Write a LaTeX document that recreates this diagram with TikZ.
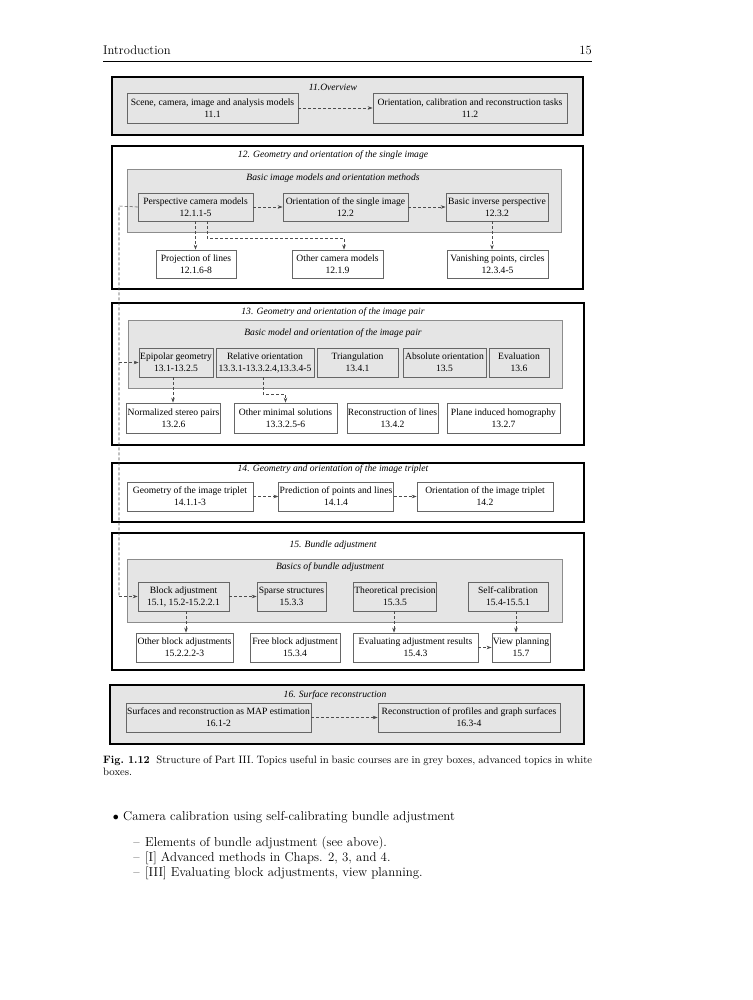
\documentclass[tikz,border=0pt]{standalone}
\usepackage{fontspec}
\newfontfamily\diafont{Liberation Serif}
\usetikzlibrary{arrows.meta}

\begin{document}
\begin{tikzpicture}[x=1pt,y=-1pt,
    sect/.style={draw=black, line width=1.4pt, inner sep=0pt},
    basic/.style={draw=black!45, line width=0.7pt, fill=black!10, inner sep=0pt},
    topic/.style={draw=black!60, line width=0.7pt, inner xsep=1pt, inner ysep=0pt, align=center,
      font=\diafont\fontsize{9.6}{12}\selectfont},
    ttl/.style={font=\diafont\itshape\fontsize{9.6}{12}\selectfont},
    dep/.style={draw=black!70, line width=0.6pt, dash pattern=on 3pt off 2pt,
      -{Stealth[length=5pt,width=3.5pt]}},
    page/.style={inner sep=0pt, font=\fontsize{12.9}{15}\selectfont}]
  \useasboundingbox (0,0) rectangle (752,1000);
  \fill[white] (0,0) rectangle (752,1000);

  % running head
  \node[page, anchor=base west, font=\fontsize{12.6}{15}\selectfont] (head) at (103,55) {Introduction};
  \node[page, anchor=base east, font=\fontsize{12.6}{15}\selectfont] (pnum) at (592,55) {15};
  \draw[line width=0.5pt] (103,61) -- (592,61);

  % 11
  \node[sect, fill=black!10, minimum width=471, minimum height=58] (sec11) at (347.5,106) {};
  \node[ttl] (t11) at (333,87) {11.Overview};
  \node[topic, minimum width=171, minimum height=30] (scene) at (212.5,108) {Scene, camera, image and analysis models\\11.1};
  \node[topic, minimum width=194, minimum height=30] (tasks) at (470,108) {Orientation, calibration and reconstruction tasks\\11.2};
  \draw[dep] (scene) -- (tasks);

  % 12
  \node[sect, minimum width=471, minimum height=143] (sec12) at (347.5,217.5) {};
  \node[ttl] (t12) at (333,155) {12. Geometry and orientation of the single image};
  \node[basic, minimum width=434, minimum height=63] (bas12) at (344,200.5) {};
  \node[ttl] (s12) at (333,178) {Basic image models and orientation methods};
  \node[topic, minimum width=115, minimum height=28] (persp) at (195.5,207) {Perspective camera models\\12.1.1-5};
  \node[topic, minimum width=125, minimum height=28] (single) at (345.5,207) {Orientation of the single image\\12.2};
  \node[topic, minimum width=102, minimum height=28] (inverse) at (497,207) {Basic inverse perspective\\12.3.2};
  \node[topic, fill=white, minimum width=80, minimum height=28] (lines) at (196,264) {Projection of lines\\12.1.6-8};
  \node[topic, fill=white, minimum width=91, minimum height=28] (othercam) at (337.5,264) {Other camera models\\12.1.9};
  \node[topic, fill=white, minimum width=101, minimum height=28] (vanish) at (497.5,264) {Vanishing points, circles\\12.3.4-5};
  \draw[dep] (persp) -- (single);
  \draw[dep] (single) -- (inverse);
  \draw[dep] (persp.south) -- (persp.south |- lines.north);
  \draw[dep] ([xshift=11.5pt]persp.south) -- ++(0,17) -| ([xshift=6.5pt]othercam.north);
  \draw[dep] ([xshift=-5pt]inverse.south) -- ([xshift=-5pt]inverse.south |- vanish.north);

  % 13
  \node[sect, minimum width=472, minimum height=142] (sec13) at (348,374) {};
  \node[ttl] (t13) at (333,312) {13. Geometry and orientation of the image pair};
  \node[basic, minimum width=434, minimum height=68] (bas13) at (345,354) {};
  \node[ttl] (s13) at (333,333) {Basic model and orientation of the image pair};
  \node[topic, minimum width=74, minimum height=29] (epi) at (176,362.5) {Epipolar geometry\\13.1-13.2.5};
  \node[topic, minimum width=98, minimum height=29] (rel) at (265,362.5) {Relative orientation\\13.3.1-13.3.2.4,13.3.4-5};
  \node[topic, minimum width=81, minimum height=29] (tri) at (357.5,362.5) {Triangulation\\13.4.1};
  \node[topic, minimum width=83, minimum height=29] (abs) at (444.5,362.5) {Absolute orientation\\13.5};
  \node[topic, minimum width=60, minimum height=29] (eval) at (519,362.5) {Evaluation\\13.6};
  \node[topic, fill=white, minimum width=91, minimum height=30] (norm) at (173.5,418) {Normalized stereo pairs\\13.2.6};
  \node[topic, fill=white, minimum width=103, minimum height=30] (minimal) at (285.5,418) {Other minimal solutions\\13.3.2.5-6};
  \node[topic, fill=white, minimum width=91, minimum height=30] (reclines) at (392.5,418) {Reconstruction of lines\\13.4.2};
  \node[topic, fill=white, minimum width=113, minimum height=30] (plane) at (503.5,418) {Plane induced homography\\13.2.7};
  \draw[dep] ([xshift=-3pt]epi.south) -- ([xshift=-3pt]epi.south |- norm.north);
  \draw[dep] ([xshift=-2pt]rel.south) -- ++(0,17) -| (minimal.north);

  % 14
  \node[sect, minimum width=472, minimum height=59] (sec14) at (348,492.5) {};
  \node[ttl] (t14) at (333,469) {14. Geometry and orientation of the image triplet};
  \node[topic, minimum width=126, minimum height=29] (geo) at (190,496.5) {Geometry of the image triplet\\14.1.1-3};
  \node[topic, minimum width=114, minimum height=29] (pred) at (336,496.5) {Prediction of points and lines\\14.1.4};
  \node[topic, minimum width=136, minimum height=29] (orient) at (485,496.5) {Orientation of the image triplet\\14.2};
  \draw[dep] (geo) -- (pred);
  \draw[dep] (pred) -- (orient);

  % 15
  \node[sect, minimum width=472, minimum height=137] (sec15) at (348,601.5) {};
  \node[ttl] (t15) at (333,545) {15. Bundle adjustment};
  \node[basic, minimum width=435, minimum height=63] (bas15) at (344.5,590.5) {};
  \node[ttl] (s15) at (330,567) {Basics of bundle adjustment};
  \node[topic, minimum width=91, minimum height=29] (block) at (183.5,596.5) {Block adjustment\\15.1, 15.2-15.2.2.1};
  \node[topic, minimum width=69, minimum height=29] (sparse) at (291.5,596.5) {Sparse structures\\15.3.3};
  \node[topic, minimum width=82, minimum height=29] (theo) at (395,596.5) {Theoretical precision\\15.3.5};
  \node[topic, minimum width=80, minimum height=29] (selfcal) at (508,596.5) {Self-calibration\\15.4-15.5.1};
  \node[topic, fill=white, minimum width=97, minimum height=29] (otherblock) at (184.5,647.5) {Other block adjustments\\15.2.2.2-3};
  \node[topic, fill=white, minimum width=90, minimum height=29] (free) at (295,647.5) {Free block adjustment\\15.3.4};
  \node[topic, fill=white, minimum width=125, minimum height=29] (evalres) at (415.5,647.5) {Evaluating adjustment results\\15.4.3};
  \node[topic, fill=white, minimum width=58, minimum height=29] (view) at (521,647.5) {View planning\\15.7};
  \draw[dep] (block) -- (sparse);
  \draw[dep] ([xshift=2.5pt]block.south) -- ([xshift=2.5pt]block.south |- otherblock.north);
  \draw[dep] ([xshift=-1pt]theo.south) -- ([xshift=-1pt]theo.south |- evalres.north);
  \draw[dep] ([xshift=8pt]selfcal.south) -- ([xshift=8pt]selfcal.south |- view.north);
  \draw[dep] (evalres) -- (view);

  % long link on the left
  \coordinate (spine) at (119,206);
  \draw[dep, -] (persp.west) -- (spine) -- (spine |- block.west);
  \draw[dep] (spine |- epi.west) -- (epi.west);
  \draw[dep] (spine |- block.west) -- (block.west);

  % 16
  \node[sect, fill=black!10, minimum width=474, minimum height=59] (sec16) at (347,714.5) {};
  \node[ttl] (t16) at (335,695) {16. Surface reconstruction};
  \node[topic, minimum width=185, minimum height=29] (surf) at (218.5,717.5) {Surfaces and reconstruction as MAP estimation\\16.1-2};
  \node[topic, minimum width=182, minimum height=29] (prof) at (469,717.5) {Reconstruction of profiles and graph surfaces\\16.3-4};
  \draw[dep] (surf) -- (prof);

  % caption
  \node[anchor=base west, inner sep=0pt, font=\fontsize{10.7}{12}\selectfont] (cap) at (103,763)
    {\makebox[489pt][s]{\mbox{\textbf{Fig.~1.12}\hspace{0.6em}}Structure of Part III. Topics useful in basic courses are in grey boxes, advanced topics in white}};
  \node[anchor=base west, inner sep=0pt, font=\fontsize{10.7}{12}\selectfont] (cap2) at (103,775) {boxes.};

  % list
  \node[page, anchor=base west] (item) at (123,820) {Camera calibration using self-calibrating bundle adjustment};
  \node[page, anchor=base east] (bul) at (119,820) {$\bullet$};
  \foreach \y/\t in {846/{Elements of bundle adjustment (see above).},
                     861/{[I] Advanced methods in Chaps. 2, 3, and 4.},
                     876/{[III] Evaluating block adjustments, view planning.}} {
    \node[page, anchor=base east] at (140,\y) {--};
    \node[page, anchor=base west] at (145,\y) {\t};
  }
\end{tikzpicture}
\end{document}
